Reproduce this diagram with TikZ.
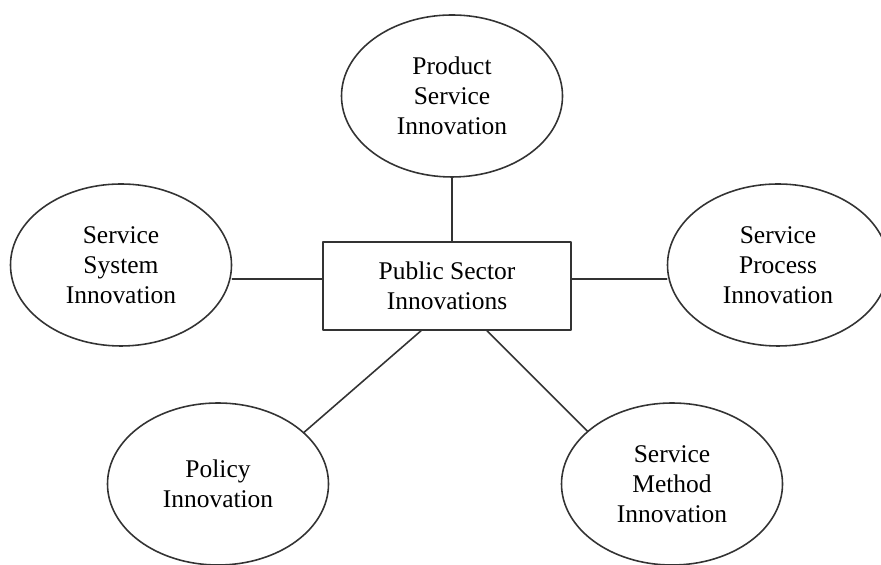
\documentclass[tikz,border=0pt]{standalone}
\usepackage{fontspec}
\setmainfont{Liberation Serif}
\usetikzlibrary{shapes.geometric}
\begin{document}
\begin{tikzpicture}[line join=round, line cap=round,
	every node/.style={font=\fontsize{14.5}{17}\selectfont, align=center, inner sep=0pt},
	oval/.style={draw=black!80, line width=0.9pt, ellipse, minimum width=4.42cm, minimum height=3.24cm},
	hub/.style={draw=black!80, line width=0.9pt, minimum width=4.96cm, minimum height=1.76cm},
	link/.style={draw=black!80, line width=0.9pt}]
	\useasboundingbox (0,0) rectangle (17.62,11.3);
	\node[hub] (box) at (8.94,5.58) {Public Sector\\Innovations};
	\node[oval] (prod) at (9.04,9.38) {Product\\Service\\Innovation};
	\node[oval] (sys) at (2.42,6.0) {Service\\System\\Innovation};
	\node[oval] (proc) at (15.56,6.0) {Service\\Process\\Innovation};
	\node[oval] (pol) at (4.36,1.62) {Policy\\Innovation};
	\node[oval] (meth) at (13.44,1.62) {Service\\Method\\Innovation};
	% Nối các ô
	\coordinate (bw) at ([yshift=0.14cm]box.west);
	\coordinate (be) at ([yshift=0.14cm]box.east);
	\coordinate (bsl) at ([xshift=-0.52cm]box.south);
	\coordinate (bsr) at ([xshift=0.8cm]box.south);
	\draw[link] (prod.south) -- (prod.south |- box.north);
	\draw[link] (bw) -- (bw -| sys.east);
	\draw[link] (be) -- (be -| proc.west);
	\draw[link] (bsl) -- (pol.31);
	\draw[link] (bsr) -- (meth.148);
\end{tikzpicture}
\end{document}
